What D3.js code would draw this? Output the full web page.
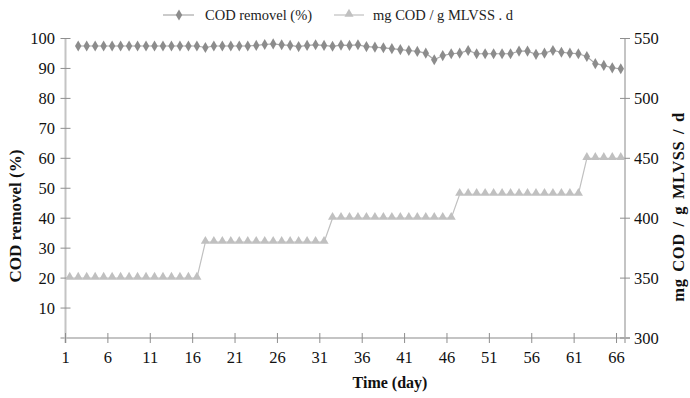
<!DOCTYPE html>
<html>
<head>
<meta charset="utf-8">
<script src="https://cdn.jsdelivr.net/npm/d3@7"></script>
<style>
  html, body { margin: 0; padding: 0; background: #fff; }
  svg { display: block; font-family: "Liberation Serif", "Times New Roman", serif; }
</style>
</head>
<body>
<svg id="chart" width="690" height="398"></svg>
<script>
// Operating days (categories on the time axis)
const days = d3.range(1, 67);

// COD removal efficiency (%) per day; no measurement on day 1
const codRemoval = [
  null, 97.5, 97.5, 97.5, 97.5, 97.5, 97.5, 97.5, 97.5, 97.5,
  97.5, 97.5, 97.5, 97.5, 97.5, 97.5, 97.0, 97.5, 97.5, 97.5,
  97.5, 97.5, 97.7, 98.0, 98.2, 97.9, 97.7, 97.3, 97.7, 97.9,
  97.7, 97.4, 97.8, 97.7, 97.9, 97.3, 97.1, 96.9, 96.6, 96.3,
  96.0, 95.7, 95.1, 92.9, 94.3, 94.9, 95.1, 96.0, 94.9, 94.9,
  94.9, 94.9, 94.9, 95.8, 95.8, 94.7, 95.1, 96.0, 95.4, 95.1,
  94.9, 94.0, 91.6, 91.0, 90.2, 89.9
];

// Organic loading (mg COD / g MLVSS . d) per day
const loading = [
  350, 350, 350, 350, 350, 350, 350, 350, 350, 350,
  350, 350, 350, 350, 350, 350, 380, 380, 380, 380,
  380, 380, 380, 380, 380, 380, 380, 380, 380, 380,
  380, 400, 400, 400, 400, 400, 400, 400, 400, 400,
  400, 400, 400, 400, 400, 400, 420, 420, 420, 420,
  420, 420, 420, 420, 420, 420, 420, 420, 420, 420,
  420, 450, 450, 450, 450, 450
];

const xTickLabels = [1, 6, 11, 16, 21, 26, 31, 36, 41, 46, 51, 56, 61, 66];
const leftTicks = [10, 20, 30, 40, 50, 60, 70, 80, 90, 100];
const rightTicks = [300, 350, 400, 450, 500, 550];

const seriesNames = ["COD removel (%)", "mg COD / g MLVSS . d"];

const svg = d3.select("#chart");
const plot = { left: 65.5, right: 625, top: 38.5, bottom: 338 };

// Category axis: each day occupies one slot, ticks sit on slot boundaries
const xSlot = d3.scaleLinear().domain([1, 67]).range([plot.left, plot.right]);
const xCenter = d => xSlot(d + 0.5);
const yLeft = d3.scaleLinear().domain([0, 100]).range([plot.bottom, plot.top]);
const yRight = d3.scaleLinear().domain([300, 550]).range([plot.bottom, plot.top]);

const axisColor = "#c4c4c4";
const tickColor = "#8e8e8e";
const codColor = "#8c8c8c";
const loadColor = "#c0c0c0";

// Axis lines
svg.append("line").attr("x1", plot.left).attr("x2", plot.left)
  .attr("y1", plot.top).attr("y2", plot.bottom + 5)
  .attr("stroke", axisColor).attr("stroke-width", 2);
svg.append("line").attr("x1", plot.right).attr("x2", plot.right)
  .attr("y1", plot.top).attr("y2", plot.bottom + 5)
  .attr("stroke", axisColor).attr("stroke-width", 2);
svg.append("line").attr("x1", plot.left - 5).attr("x2", plot.right + 5)
  .attr("y1", plot.bottom).attr("y2", plot.bottom)
  .attr("stroke", axisColor).attr("stroke-width", 2);

// Left axis ticks and labels
const gl = svg.append("g");
gl.selectAll("line").data(leftTicks).join("line")
  .attr("x1", plot.left - 5).attr("x2", plot.left + 5)
  .attr("y1", d => yLeft(d)).attr("y2", d => yLeft(d))
  .attr("stroke", tickColor).attr("stroke-width", 1);
gl.selectAll("text").data(leftTicks).join("text")
  .attr("x", 55).attr("y", d => yLeft(d)).attr("dy", "0.35em")
  .attr("text-anchor", "end").attr("font-size", 16.5).attr("fill", "#111")
  .text(d => d);

// Right axis ticks and labels
const gr = svg.append("g");
gr.selectAll("line").data(rightTicks).join("line")
  .attr("x1", plot.right - 5).attr("x2", plot.right + 5)
  .attr("y1", d => yRight(d)).attr("y2", d => yRight(d))
  .attr("stroke", tickColor).attr("stroke-width", 1);
gr.selectAll("text").data(rightTicks).join("text")
  .attr("x", 634).attr("y", d => yRight(d)).attr("dy", "0.35em")
  .attr("text-anchor", "start").attr("font-size", 16.5).attr("fill", "#111")
  .text(d => d);

// Bottom axis ticks and labels
const gb = svg.append("g");
gb.selectAll("line").data(xTickLabels).join("line")
  .attr("x1", d => xSlot(d)).attr("x2", d => xSlot(d))
  .attr("y1", plot.bottom - 5).attr("y2", plot.bottom + 5)
  .attr("stroke", tickColor).attr("stroke-width", 1);
gb.selectAll("text").data(xTickLabels).join("text")
  .attr("x", d => xSlot(d)).attr("y", 363)
  .attr("text-anchor", "middle").attr("font-size", 16.5).attr("fill", "#111")
  .text(d => d);

// Axis titles
svg.append("text").attr("x", 390).attr("y", 388)
  .attr("text-anchor", "middle").attr("font-size", 16).attr("font-weight", "bold")
  .attr("fill", "#111").text("Time (day)");
svg.append("text").attr("transform", "translate(21,216) rotate(-90)")
  .attr("text-anchor", "middle").attr("font-size", 17).attr("font-weight", "bold")
  .attr("fill", "#111").text("COD removel (%)");
svg.append("text").attr("transform", "translate(684,207) rotate(-90)")
  .attr("text-anchor", "middle").attr("font-size", 16.5).attr("font-weight", "bold")
  .attr("letter-spacing", 0.6).attr("word-spacing", 2)
  .attr("fill", "#111").text("mg COD / g MLVSS / d");

// Series
const loadData = days.map((d, i) => ({ day: d, v: loading[i] }));
const codData = days.map((d, i) => ({ day: d, v: codRemoval[i] })).filter(p => p.v != null);

const diamond = d3.symbol().type(d3.symbolDiamond).size(36);
const triangle = d3.symbol().type(d3.symbolTriangle).size(36);

svg.append("path").datum(loadData)
  .attr("fill", "none").attr("stroke", loadColor).attr("stroke-width", 1.2)
  .attr("d", d3.line().x(p => xCenter(p.day)).y(p => yRight(p.v)));
svg.append("g").selectAll("path").data(loadData).join("path")
  .attr("transform", p => `translate(${xCenter(p.day)},${yRight(p.v) - 1})`)
  .attr("d", triangle).attr("fill", loadColor);

svg.append("path").datum(codData)
  .attr("fill", "none").attr("stroke", "#a8a8a8").attr("stroke-width", 1.2)
  .attr("d", d3.line().x(p => xCenter(p.day)).y(p => yLeft(p.v)));
svg.append("g").selectAll("path").data(codData).join("path")
  .attr("transform", p => `translate(${xCenter(p.day)},${yLeft(p.v)})`)
  .attr("d", diamond).attr("fill", codColor);

// Legend
const legend = svg.append("g");
legend.append("line").attr("x1", 163).attr("x2", 194).attr("y1", 15).attr("y2", 15)
  .attr("stroke", "#a8a8a8").attr("stroke-width", 1.2);
legend.append("path").attr("transform", "translate(179,15)").attr("d", diamond).attr("fill", codColor);
legend.append("text").attr("x", 205).attr("y", 15).attr("dy", "0.35em")
  .attr("font-size", 14.5).attr("fill", "#222").text(seriesNames[0]);
legend.append("line").attr("x1", 334).attr("x2", 364).attr("y1", 15).attr("y2", 15)
  .attr("stroke", loadColor).attr("stroke-width", 1.2);
legend.append("path").attr("transform", "translate(349,14)").attr("d", triangle).attr("fill", loadColor);
legend.append("text").attr("x", 373).attr("y", 15).attr("dy", "0.35em")
  .attr("font-size", 14.5).attr("fill", "#222").text(seriesNames[1]);
</script>
</body>
</html>
